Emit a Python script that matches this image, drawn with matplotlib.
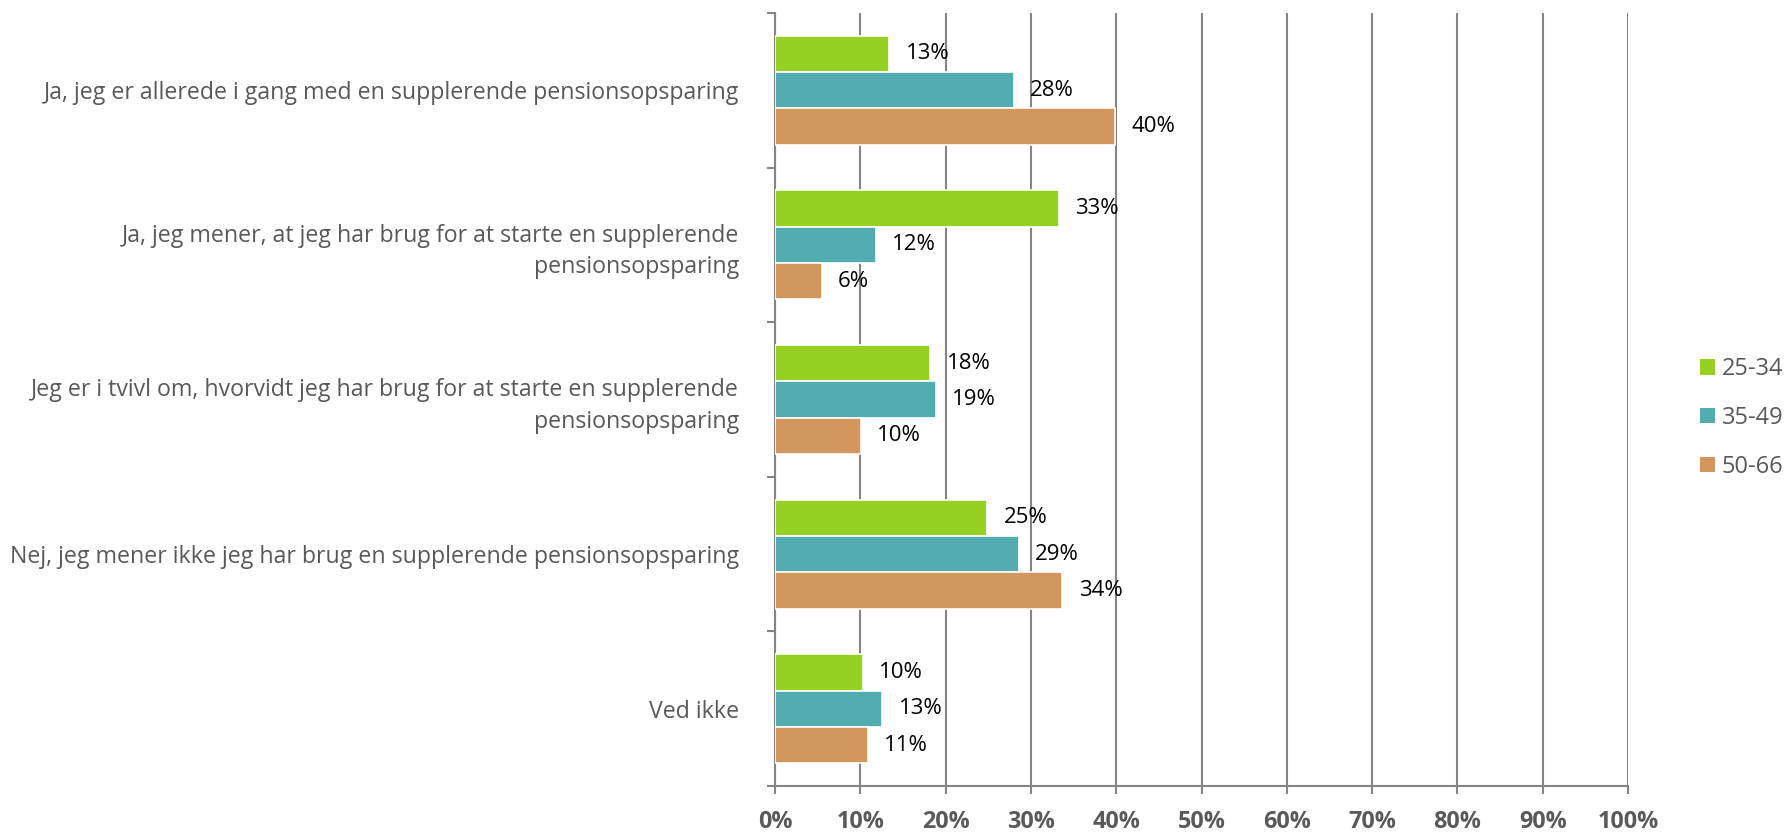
import matplotlib
matplotlib.use("Agg")
import matplotlib.pyplot as plt
import numpy as np
from matplotlib.patches import Patch

categories = [
    "Ja, jeg er allerede i gang med en supplerende pensionsopsparing",
    "Ja, jeg mener, at jeg har brug for at starte en supplerende\npensionsopsparing",
    "Jeg er i tvivl om, hvorvidt jeg har brug for at starte en supplerende\npensionsopsparing",
    "Nej, jeg mener ikke jeg har brug en supplerende pensionsopsparing",
    "Ved ikke",
]
series_names = ["25-34", "35-49", "50-66"]
v_25_34 = [13.4, 33.3, 18.2, 24.9, 10.3]
v_35_49 = [28.0, 11.8, 18.9, 28.6, 12.6]
v_50_66 = [39.9, 5.5, 10.1, 33.7, 10.9]
labels_25_34 = ["13%", "33%", "18%", "25%", "10%"]
labels_35_49 = ["28%", "12%", "19%", "29%", "13%"]
labels_50_66 = ["40%", "6%", "10%", "34%", "11%"]
xticks = list(range(0, 101, 10))
xticklabels = [f"{t}%" for t in xticks]

colors = ["#96D023", "#52ACB0", "#D3965C"]
grid_col = "#858585"
text_col = "#595959"

plt.rcParams['font.family'] = ['Open Sans', 'DejaVu Sans']

W, H = 1786, 832
fig = plt.figure(figsize=(W / 100, H / 100), dpi=100)
ax = fig.add_axes([775 / W, 1 - 786 / H, (1628 - 775) / W, (786 - 13) / H])

y = np.arange(len(categories))
bh = 0.235
data = [v_25_34, v_35_49, v_50_66]
labs = [labels_25_34, labels_35_49, labels_50_66]
offsets = [-bh, 0, bh]
for k in range(3):
    bars = ax.barh(y + offsets[k], data[k], height=bh, color=colors[k],
                   edgecolor="white", linewidth=1.2, zorder=3, label=series_names[k])
    for b, lab in zip(bars, labs[k]):
        ax.text(b.get_width() + 1.9, b.get_y() + b.get_height() / 2, lab,
                va="center", ha="left", fontsize=16, color="black", zorder=4)

ax.set_xlim(0, 100)
ax.set_ylim(4.5, -0.5)
ax.set_xticks(xticks)
ax.set_xticklabels(xticklabels, fontsize=16.8, fontweight="bold", color=text_col)
ax.xaxis.grid(True, color=grid_col, linewidth=1.5, zorder=0)
ax.set_axisbelow(True)

ax.set_yticks(y)
ax.set_yticklabels(categories, fontsize=16.7, color=text_col, linespacing=1.4)
for t in ax.get_yticklabels():
    t.set_multialignment("right")
ax.set_yticks(np.arange(-0.5, 5.0, 1.0), minor=True)
ax.tick_params(axis="y", which="major", length=0, pad=26)
ax.tick_params(axis="y", which="minor", length=6, width=1.5, color=grid_col)
ax.tick_params(axis="x", which="major", length=6, width=1.5, color=grid_col, pad=11.5)

for s in ["top", "right"]:
    ax.spines[s].set_visible(False)
for s in ["left", "bottom"]:
    ax.spines[s].set_color(grid_col)
    ax.spines[s].set_linewidth(1.5)

handles = [Patch(facecolor=c, edgecolor="none") for c in colors]
leg = fig.legend(handles, series_names, loc="center left",
                 bbox_to_anchor=(1700 / W, 1 - 418 / H), frameon=False,
                 fontsize=17, handlelength=0.62, handleheight=0.62,
                 handletextpad=0.3, labelspacing=1.05, borderpad=0, borderaxespad=0)
for t in leg.get_texts():
    t.set_color(text_col)

fig.savefig("out.png", dpi=100)
